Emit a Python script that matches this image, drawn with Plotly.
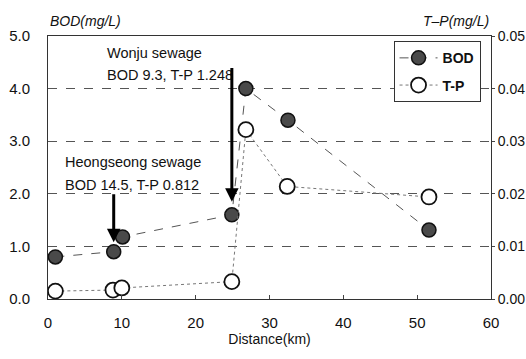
import plotly.graph_objects as go

distance_bod = [1.0, 8.9, 10.1, 24.9, 26.8, 32.5, 51.6]
bod = [0.80, 0.90, 1.18, 1.60, 4.00, 3.40, 1.31]
distance_tp = [1.0, 8.8, 10.0, 24.9, 26.8, 32.4, 51.6]
tp = [0.0015, 0.0017, 0.0021, 0.0033, 0.0322, 0.0214, 0.0194]

x_ticks = [0, 10, 20, 30, 40, 50, 60]
y_ticks = [0, 1, 2, 3, 4, 5]
y2_ticks = [0, 0.01, 0.02, 0.03, 0.04, 0.05]

font = "Liberation Sans, Arial, sans-serif"

fig = go.Figure()
fig.add_trace(go.Scatter(
    x=distance_bod, y=bod, name="<b>BOD</b>", mode="lines+markers", legendgroup="a",
    line=dict(color="#555555", width=1, dash="dash"),
    marker=dict(size=14, color="#4a4a4a", line=dict(color="#111111", width=1.5)),
    cliponaxis=False,
))
fig.add_trace(go.Scatter(
    x=distance_tp, y=tp, name="<b>T-P</b>", mode="lines+markers", yaxis="y2", legendgroup="b",
    line=dict(color="#777777", width=1, dash="dot"),
    marker=dict(size=15, color="white", line=dict(color="#111111", width=1.8)),
    cliponaxis=False,
))

annotations = [
    dict(x=7.7, y=4.68, xref="x", yref="y", text="Wonju sewage", showarrow=False,
         xanchor="left", yanchor="middle", font=dict(size=14.5, color="#111")),
    dict(x=7.7, y=4.25, xref="x", yref="y", text="BOD 9.3, T-P 1.248", showarrow=False,
         xanchor="left", yanchor="middle", font=dict(size=14.5, color="#111")),
    dict(x=2.0, y=2.6, xref="x", yref="y", text="Heongseong sewage", showarrow=False,
         xanchor="left", yanchor="middle", font=dict(size=14.5, color="#111")),
    dict(x=2.0, y=2.17, xref="x", yref="y", text="BOD 14.5, T-P 0.812", showarrow=False,
         xanchor="left", yanchor="middle", font=dict(size=14.5, color="#111")),
    dict(x=24.9, y=1.85, ax=24.9, ay=4.42, xref="x", yref="y", axref="x", ayref="y",
         showarrow=True, arrowhead=2, arrowsize=0.9, arrowwidth=3, arrowcolor="#000", text=""),
    dict(x=8.9, y=1.08, ax=8.9, ay=2.02, xref="x", yref="y", axref="x", ayref="y",
         showarrow=True, arrowhead=2, arrowsize=0.9, arrowwidth=3, arrowcolor="#000", text=""),
    dict(x=0, y=1.0, xref="paper", yref="paper", text="<i>BOD(mg/L)</i>", showarrow=False,
         xanchor="left", yanchor="bottom", yshift=5, font=dict(size=14, color="#111")),
    dict(x=1.0, y=1.0, xref="paper", yref="paper", text="<i>T–P(mg/L)</i>", showarrow=False,
         xanchor="right", yanchor="bottom", yshift=5, font=dict(size=14, color="#111")),
]

fig.update_layout(
    width=526, height=359,
    margin=dict(l=48, r=35, t=36, b=60, autoexpand=False),
    paper_bgcolor="white", plot_bgcolor="white",
    font=dict(family=font, size=14, color="#111"),
    showlegend=True,
    legend=dict(x=0.78, y=0.98, xanchor="left", yanchor="top",
                bordercolor="#333", borderwidth=1, bgcolor="white",
                itemwidth=38,
                font=dict(size=14, color="#111"), tracegroupgap=6),
    xaxis=dict(range=[0, 60], tickvals=x_ticks, ticks="inside", ticklen=4,
               showline=True, linecolor="#333", linewidth=1, mirror=True,
               showgrid=False, zeroline=False, ticklabelstandoff=10,
               tickfont=dict(size=15), automargin=False,
               title=dict(text="Distance(km)", font=dict(size=14), standoff=4)),
    yaxis=dict(range=[0, 5], tickvals=y_ticks, tickformat=".1f",
               showline=True, linecolor="#333", linewidth=1,
               ticklabelstandoff=14, tickfont=dict(size=15), automargin=False,
               showgrid=True, gridcolor="#555", griddash="dash", gridwidth=1,
               zeroline=False),
    yaxis2=dict(range=[0, 0.05], tickvals=y2_ticks, tickformat=".2f",
                overlaying="y", side="right", ticks="outside", ticklen=3,
                tickfont=dict(size=14), automargin=False,
                showline=True, linecolor="#333", linewidth=1,
                showgrid=False, zeroline=False),
    annotations=annotations,
)

fig.write_html("out.html")
